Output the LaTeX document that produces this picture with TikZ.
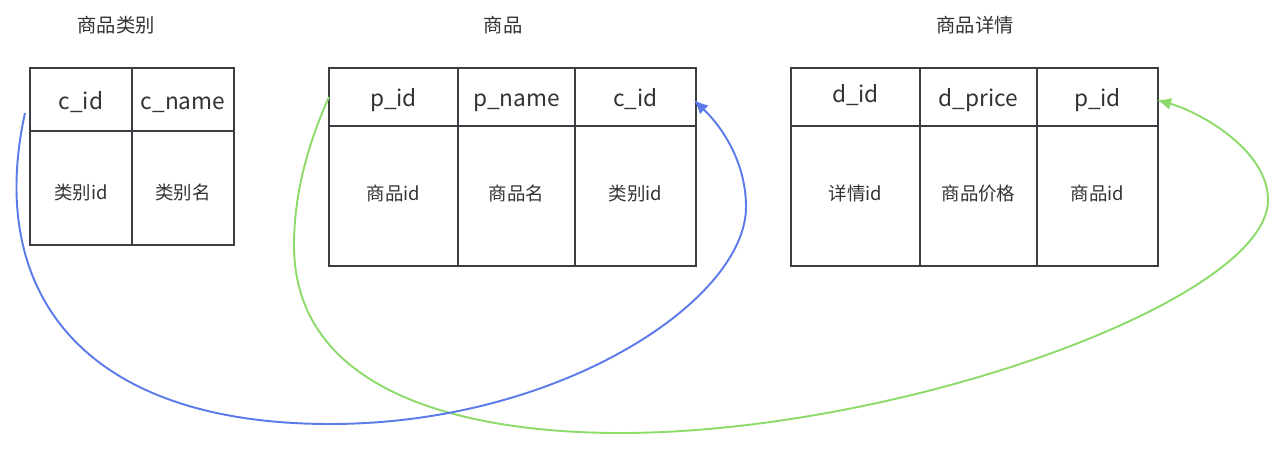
\documentclass[tikz,border=0pt]{standalone}
\usepackage{fontspec}
\setmainfont{Noto Sans CJK SC}
\usetikzlibrary{arrows.meta}

\definecolor{linegray}{HTML}{3A3E43}
\definecolor{textgray}{HTML}{333333}
\definecolor{fkblue}{HTML}{5B7BEA}
\definecolor{fkgreen}{HTML}{8DDB6A}

\begin{document}
\begin{tikzpicture}[x=0.02cm, y=-0.02cm]

\tikzset{cell/.style 2 args = {shape=rectangle, draw=linegray, line width=1pt, inner sep=0pt, minimum width=#1, minimum height=#2, text=textgray}}
\tikzset{head/.style = {font=\fontsize{12.9}{15}\selectfont, text height=12pt, text depth=0.7pt}}
\tikzset{body/.style = {font=\fontsize{10.5}{13}\selectfont, text height=9.2pt, text depth=4.6pt}}
\tikzset{title/.style = {text=textgray, font=\fontsize{11}{13}\selectfont}}
\tikzset{fk/.style = {->, > = {Latex[length=8pt,width=7pt]}, line width=1.1pt}}

\useasboundingbox (0,0) rectangle (1278,451);

%titles
\node[title] (t1) at (116,25) {商品类别};
\node[title] (t2) at (503,25) {商品};
\node[title] (t3) at (975,25) {商品详情};

%category table
\node[cell={2.04cm}{1.26cm}, head] (cid1) at (81,99.5) {c\_id};
\node[cell={2.04cm}{1.26cm}, head] (cname1) at (183,99.5) {c\_name};
\node[cell={2.04cm}{2.28cm}, body, text height=14.8pt, text depth=1.2pt] (cidv1) at (81,188) {类别id};
\node[cell={2.04cm}{2.28cm}, body, text height=14.8pt, text depth=1.2pt] (cnamev1) at (183,188) {类别名};

%product table
\node[cell={2.58cm}{1.16cm}, head] (pid2) at (393.5,97) {p\_id};
\node[cell={2.34cm}{1.16cm}, head] (pname2) at (516.5,97) {p\_name};
\node[cell={2.42cm}{1.16cm}, head] (cid2) at (635.5,97) {c\_id};
\node[cell={2.58cm}{2.8cm}, body] (pidv2) at (393.5,196) {商品id};
\node[cell={2.34cm}{2.8cm}, body] (pnamev2) at (516.5,196) {商品名};
\node[cell={2.42cm}{2.8cm}, body] (cidv2) at (635.5,196) {类别id};

%detail table
\node[cell={2.58cm}{1.16cm}, head, text depth=5.2pt] (did3) at (855.5,97) {d\_id};
\node[cell={2.34cm}{1.16cm}, head] (dprice3) at (978.5,97) {d\_price};
\node[cell={2.42cm}{1.16cm}, head] (pid3) at (1097.5,97) {p\_id};
\node[cell={2.58cm}{2.8cm}, body] (didv3) at (855.5,196) {详情id};
\node[cell={2.34cm}{2.8cm}, body] (dpricev3) at (978.5,196) {商品价格};
\node[cell={2.42cm}{2.8cm}, body] (pidv3) at (1097.5,196) {商品id};

%link ends
\coordinate (cfrom) at (25,113);
\coordinate (cto) at (694,100);
\coordinate (pfrom) at (329,97);
\coordinate (pto) at (1157,100);

%links
\draw[fk, fkgreen] (pfrom) .. controls (305,150) and (294,200) .. (294,245)
  .. controls (294,400) and (480,433) .. (620,433)
  .. controls (900,433) and (1268,300) .. (1268,200)
  .. controls (1268,150) and (1200,112) .. (pto);
\draw[fk, fkblue] (cfrom) .. controls (-14,290) and (80,424) .. (330,424)
  .. controls (560,424) and (746,300) .. (746,207)
  .. controls (746,160) and (720,125) .. (cto);

\end{tikzpicture}
\end{document}
